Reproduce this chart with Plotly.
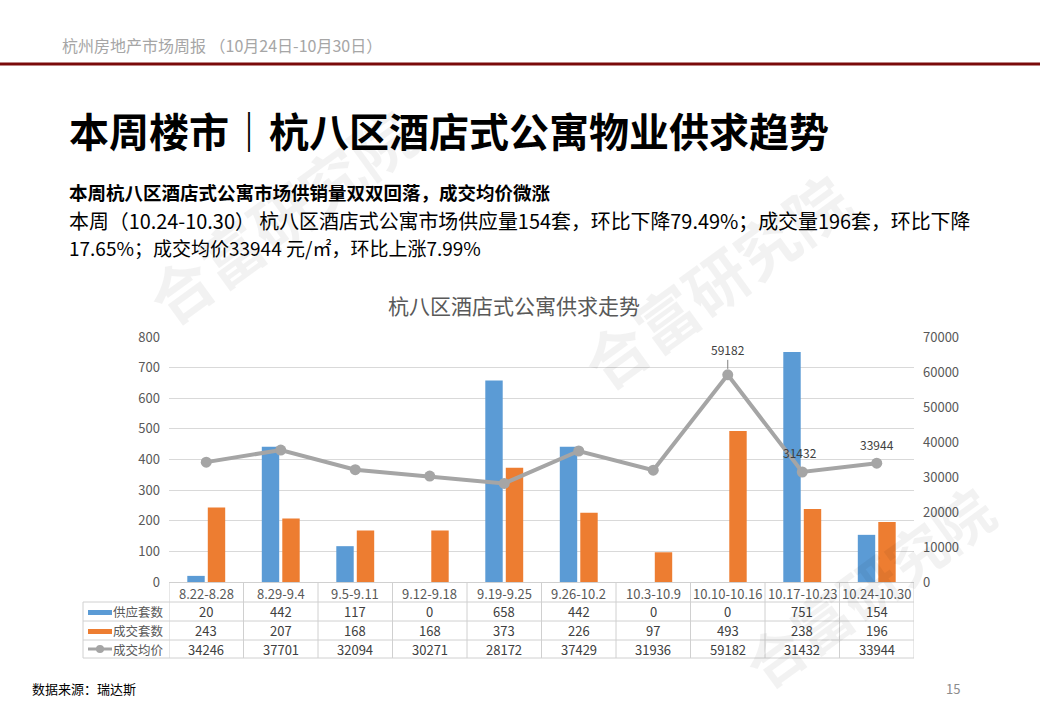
import plotly.graph_objects as go

W, H = 1040, 720

categories = ["8.22-8.28", "8.29-9.4", "9.5-9.11", "9.12-9.18", "9.19-9.25",
              "9.26-10.2", "10.3-10.9", "10.10-10.16", "10.17-10.23", "10.24-10.30"]
supply = [20, 442, 117, 0, 658, 442, 0, 0, 751, 154]
deals = [243, 207, 168, 168, 373, 226, 97, 493, 238, 196]
price = [34246, 37701, 32094, 30271, 28172, 37429, 31936, 59182, 31432, 33944]
series_names = ["供应套数", "成交套数", "成交均价"]
labelled_points = [7, 8, 9]

FONT = "Noto Sans CJK SC"
BLUE = "#5b9bd5"
ORANGE = "#ed7d31"
GRAY = "#a5a5a5"
GRID = "#d9d9d9"
TXT = "#595959"


def px(x):
    return x / W


def py(y):
    return 1 - y / H


PL, PR, PT, PB = 169, 914, 337, 582

fig = go.Figure()

fig.add_trace(go.Bar(x=categories, y=supply, name=series_names[0],
                     marker=dict(color=BLUE, line=dict(width=0)), yaxis="y"))
fig.add_trace(go.Bar(x=categories, y=deals, name=series_names[1],
                     marker=dict(color=ORANGE, line=dict(width=0)), yaxis="y"))
fig.add_trace(go.Scatter(x=categories, y=price, name=series_names[2], yaxis="y2",
                         mode="lines+markers",
                         line=dict(color=GRAY, width=4),
                         marker=dict(color=GRAY, size=11)))

annotations = []
shapes = []

for i in labelled_points:
    if i == 7:
        annotations.append(dict(x=categories[i], y=price[i], xref="x", yref="y2",
                                text=str(price[i]), showarrow=True, arrowhead=0,
                                arrowcolor="#7f7f7f", arrowwidth=1, ax=0, ay=-15,
                                standoff=6, yanchor="bottom",
                                font=dict(family=FONT, size=12, color="#404040")))
    else:
        annotations.append(dict(x=categories[i], y=price[i], xref="x", yref="y2",
                                text=str(price[i]), showarrow=False,
                                yshift=19, xshift=-2 if i == 8 else 0,
                                font=dict(family=FONT, size=12, color="#404040")))

TL = 83
LINE_C = "#d0d0d0"
ROWS = [(602, 621), (621, 640), (640, 658)]

for yy in [602, 621, 640, 658]:
    shapes.append(dict(type="line", xref="paper", yref="paper",
                       x0=px(TL), x1=px(PR), y0=py(yy), y1=py(yy),
                       line=dict(color=LINE_C, width=1)))
shapes.append(dict(type="line", xref="paper", yref="paper",
                   x0=px(TL), x1=px(TL), y0=py(602), y1=py(658),
                   line=dict(color=LINE_C, width=1)))
for k in range(len(categories) + 1):
    shapes.append(dict(type="line", xref="x", yref="paper",
                       x0=k - 0.5, x1=k - 0.5, y0=py(582), y1=py(658),
                       line=dict(color=LINE_C, width=1)))

for i, c in enumerate(categories):
    annotations.append(dict(x=c, y=py(593), xref="x", yref="paper", text=c,
                            showarrow=False, yanchor="middle",
                            font=dict(family=FONT, size=13, color=TXT)))

rows_vals = [supply, deals, price]
for r, (vals, (y0, y1)) in enumerate(zip(rows_vals, ROWS)):
    yc = (y0 + y1) / 2
    for i, v in enumerate(vals):
        annotations.append(dict(x=categories[i], y=py(yc), xref="x", yref="paper",
                                text=str(v), showarrow=False, yanchor="middle",
                                font=dict(family=FONT, size=13, color="#404040")))
    annotations.append(dict(x=px(166), y=py(yc), xref="paper", yref="paper",
                            text=series_names[r], showarrow=False,
                            xanchor="right", yanchor="middle",
                            font=dict(family=FONT, size=12.5, color=TXT)))

shapes.append(dict(type="rect", xref="paper", yref="paper",
                   x0=px(88), x1=px(112), y0=py(615), y1=py(610),
                   fillcolor=BLUE, line=dict(width=0)))
shapes.append(dict(type="rect", xref="paper", yref="paper",
                   x0=px(88), x1=px(112), y0=py(634), y1=py(629),
                   fillcolor=ORANGE, line=dict(width=0)))
shapes.append(dict(type="line", xref="paper", yref="paper",
                   x0=px(88), x1=px(112), y0=py(649), y1=py(649),
                   line=dict(color=GRAY, width=3)))
shapes.append(dict(type="circle", xref="paper", yref="paper",
                   x0=px(96), x1=px(104), y0=py(653), y1=py(645),
                   fillcolor=GRAY, line=dict(width=0)))

annotations.append(dict(x=px(60), y=py(45), xref="paper", yref="paper",
                        text="杭州房地产市场周报 （10月24日-10月30日）",
                        showarrow=False, xanchor="left", yanchor="middle",
                        font=dict(family=FONT, size=16, color="#a6a6a6")))
shapes.append(dict(type="line", xref="paper", yref="paper",
                   x0=0, x1=1, y0=py(64), y1=py(64),
                   line=dict(color="#7a0a0a", width=3)))

annotations.append(dict(x=px(67), y=py(130), xref="paper", yref="paper",
                        text="<b>本周楼市｜杭八区酒店式公寓物业供求趋势</b>",
                        showarrow=False, xanchor="left", yanchor="middle",
                        font=dict(family=FONT, size=40, color="#000000")))
annotations.append(dict(x=px(67), y=py(192), xref="paper", yref="paper",
                        text="<b>本周杭八区酒店式公寓市场供销量双双回落，成交均价微涨</b>",
                        showarrow=False, xanchor="left", yanchor="middle",
                        font=dict(family=FONT, size=18.5, color="#000000")))
annotations.append(dict(x=px(67), y=py(220), xref="paper", yref="paper",
                        text="本周（10.24-10.30） 杭八区酒店式公寓市场供应量154套，环比下降79.49%；成交量196套，环比下降",
                        showarrow=False, xanchor="left", yanchor="middle",
                        font=dict(family=FONT, size=19.9, color="#000000")))
annotations.append(dict(x=px(67), y=py(247), xref="paper", yref="paper",
                        text="17.65%；成交均价33944 元/㎡，环比上涨7.99%",
                        showarrow=False, xanchor="left", yanchor="middle",
                        font=dict(family=FONT, size=19, color="#000000")))

annotations.append(dict(x=px(514), y=py(305), xref="paper", yref="paper",
                        text="杭八区酒店式公寓供求走势",
                        showarrow=False, xanchor="center", yanchor="middle",
                        font=dict(family=FONT, size=21, color=TXT)))

annotations.append(dict(x=px(30), y=py(688), xref="paper", yref="paper",
                        text="数据来源：瑞达斯", showarrow=False,
                        xanchor="left", yanchor="middle",
                        font=dict(family=FONT, size=13, color="#000000")))
annotations.append(dict(x=px(953), y=py(688), xref="paper", yref="paper",
                        text="15", showarrow=False,
                        xanchor="center", yanchor="middle",
                        font=dict(family=FONT, size=13, color="#8c8c8c")))

for cx, cy, sz in [(280, 215, 62), (715, 280, 62), (868, 586, 58)]:
    annotations.append(dict(x=px(cx), y=py(cy), xref="paper", yref="paper",
                            text="<b>合富研究院</b>", showarrow=False,
                            textangle=-36, xanchor="center", yanchor="middle",
                            font=dict(family=FONT, size=sz,
                                      color="rgba(0,0,0,0.05)")))

fig.update_layout(
    width=W, height=H,
    margin=dict(l=0, r=0, t=0, b=0, pad=0),
    autosize=False,
    paper_bgcolor="white", plot_bgcolor="white",
    showlegend=False,
    barmode="group", bargap=0.45, bargroupgap=0.15,
    font=dict(family=FONT, color=TXT),
    xaxis=dict(domain=[px(PL), px(PR)], type="category",
               range=[-0.5, len(categories) - 0.5], automargin=False,
               showticklabels=False, showgrid=False, zeroline=False,
               showline=True, linecolor=LINE_C, ticks=""),
    yaxis=dict(domain=[py(PB), py(PT)], range=[0, 800], dtick=100,
               automargin=False,
               showgrid=True, gridcolor=GRID, gridwidth=1, zeroline=False,
               showline=False, ticks="", ticklabelstandoff=8,
               tickfont=dict(family=FONT, size=13, color=TXT)),
    yaxis2=dict(overlaying="y", side="right", anchor="x", automargin=False,
                range=[0, 70000], dtick=10000, tickformat="d", showgrid=False,
                zeroline=False, showline=False, ticks="", ticklabelstandoff=8,
                tickfont=dict(family=FONT, size=13, color=TXT)),
    annotations=annotations,
    shapes=shapes,
)

fig.write_html("out.html")
